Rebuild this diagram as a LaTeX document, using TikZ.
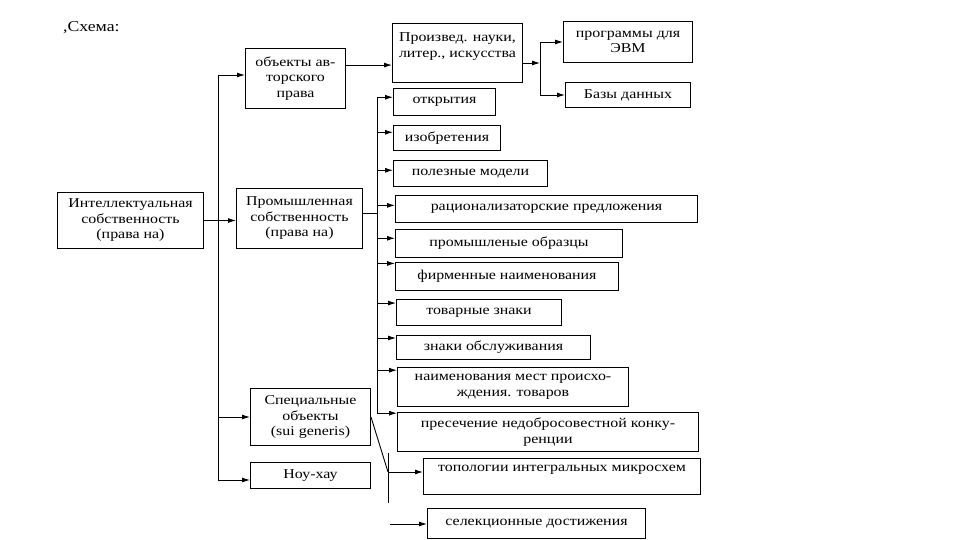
\documentclass[tikz,border=0pt]{standalone}
\usepackage{fontspec}
\setmainfont{Liberation Serif}[FakeStretch=1.18]
\usetikzlibrary{arrows.meta,calc}

\tikzset{
  box/.style={draw, line width=1pt, inner sep=1pt, align=center, font=\fontsize{13.5}{15.5}\selectfont},
  ln/.style={line width=0.9pt},
  arr/.style={line width=0.9pt, -{Latex[length=8pt,width=5pt]}}
}

\begin{document}
\begin{tikzpicture}[x=1pt,y=-1pt]
\useasboundingbox (0,0) rectangle (960,540);

\node[anchor=west, inner sep=0pt, font=\fontsize{15}{17}\selectfont] (title) at (63,28) {,Схема:};

% main boxes
\node[box, anchor=north west, minimum width=146pt, minimum height=56pt] (ip) at (57,192) {Интеллектуальная\\собственность\\(права на)};
\node[box, anchor=north west, minimum width=100pt, minimum height=60pt] (ap) at (245,48) {объекты ав-\\торского\\права};
\node[box, anchor=north west, minimum width=126pt, minimum height=60pt] (pp) at (236,188) {Промышленная\\собственность\\(права на)};
\node[box, anchor=north west, minimum width=120pt, minimum height=57pt] (so) at (250,388) {Специальные\\объекты\\(sui generis)};
\node[box, anchor=north west, minimum width=120pt, minimum height=26pt] (kh) at (250,462) {Ноу-хау};
\node[box, anchor=north west, minimum width=130pt, minimum height=59pt] (lit) at (392,23) {Произвед. науки,\\литер., искусства\\~};
\node[box, anchor=north west, minimum width=129pt, minimum height=41pt] (evm) at (563,21) {программы для\\ЭВМ};
\node[box, anchor=north west, minimum width=125pt, minimum height=25pt] (bd) at (565,82) {Базы данных};

% objects of industrial property and others
\foreach \n/\x/\y/\w/\h/\txt in {
    1/393/88/102/27/{открытия},
    2/393/125/107/25/{изобретения},
    3/393/160/154/26/{полезные модели},
    4/395/195/302/27/{рационализаторские предложения},
    5/395/229/227/28/{промышленые образцы},
    6/395/262/223/28/{фирменные наименования},
    7/396/299/165/26/{товарные знаки},
    8/396/335/194/24/{знаки обслуживания},
    9/397/367/231/39/{наименования мест происхо-\\ждения. товаров},
    10/397/412/301/39/{пресечение недобросовестной конку-\\ренции},
    11/423/458/277/36/{топологии интегральных микросхем\\~},
    12/427/508/218/30/{селекционные достижения}}
    \node[box, anchor=north west, minimum width=\w pt, minimum height=\h pt] (p\n) at (\x,\y) {\txt};

% left bus
\coordinate (lt) at (218,75);
\coordinate (lb) at (218,480);
\draw[ln] (lt) -- (lb);
\draw[arr] (lt) -- (lt -| ap.west);
\draw[arr] (ip.east) -- (ip.east -| pp.west);
\draw[arr] (lb |- so.west) -- (so.west);
\draw[arr] (lb) -- (lb -| kh.west);

% copyright branch
\coordinate (af) at ($(ap.north east)!0.28!(ap.south east)$);
\draw[arr] (af) -- (af -| lit.west);
\coordinate (fk) at (540,63);
\draw[arr] (fk -| lit.east) -- (fk);
\draw[ln] (fk |- evm.west) -- (fk |- bd.west);
\draw[arr] (fk |- evm.west) -- (evm.west);
\draw[arr] (fk |- bd.west) -- (bd.west);

% industrial property bus
\coordinate (bus) at (377,0);
\coordinate (c1) at ($(pp.north east)!0.42!(pp.south east)$);
\draw[ln] (c1) -- (c1 -| bus);
\foreach \n/\f in {1/0.33, 2/0.28, 3/0.38, 4/0.37, 5/0.32, 6/0.05, 7/0.15, 8/0.12, 9/0.08, 10/0.03} {
    \coordinate (t\n) at ($(p\n.north west)!\f!(p\n.south west)$);
    \draw[arr] (bus |- t\n) -- (t\n);
}
\draw[ln] (bus |- t1) -- (bus |- t10);

% special objects
\coordinate (sj) at (388,472);
\coordinate (st) at (388,453);
\coordinate (sb) at (388,503);
\draw[ln] (so.east) -- (sj);
\draw[ln] (st) -- (sb);
\draw[arr] (sj) -- (sj -| p11.west);
\coordinate (ss) at (390,524);
\draw[arr] (ss) -- (ss -| p12.west);
\end{tikzpicture}
\end{document}
